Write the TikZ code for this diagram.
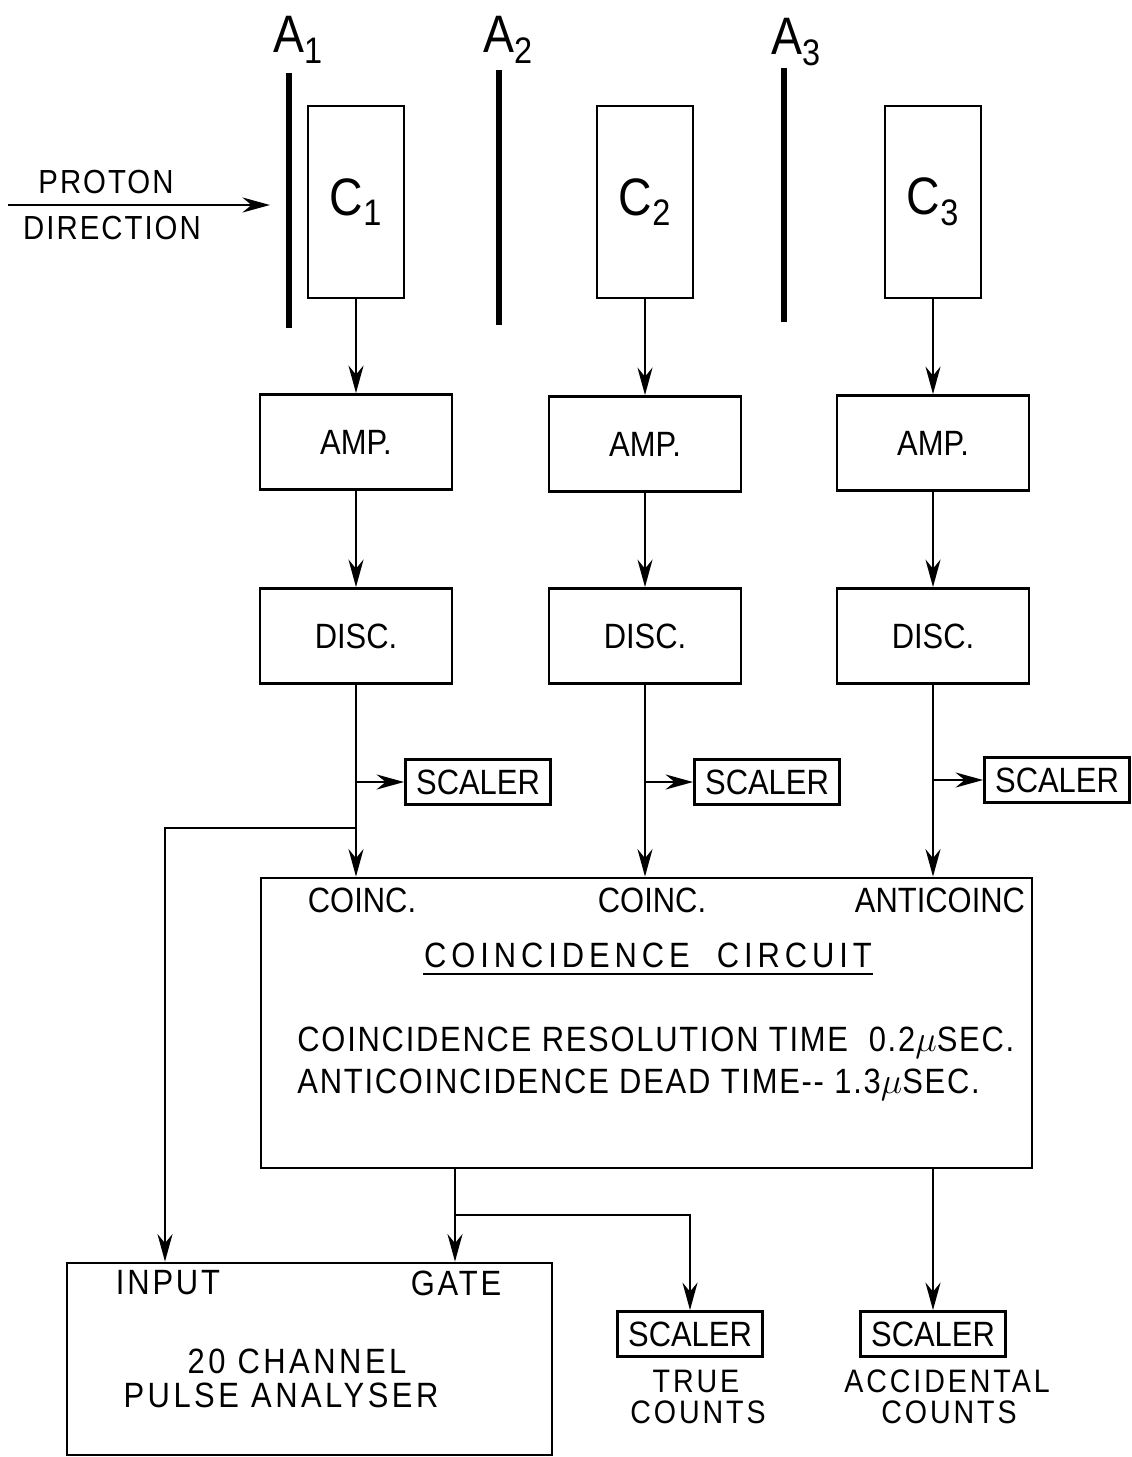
\documentclass[tikz,border=0pt]{standalone}
\usepackage{fontspec}
\setmainfont{Liberation Sans}[FakeStretch=0.88]
\usetikzlibrary{arrows.meta,calc,positioning}

\begin{document}
\begin{tikzpicture}[x=0.02cm,y=-0.02cm, line width=1.6pt,
  box/.style={draw,line width=1.6pt,inner sep=0pt,font=\fontsize{20}{24}\selectfont},
  det/.style={box,minimum width=1.92cm,minimum height=3.84cm,font=\fontsize{30}{34}\selectfont},
  unit/.style={box,minimum width=3.84cm,minimum height=1.9cm},
  scal/.style={box,minimum width=2.9cm,minimum height=0.9cm},
  lbl/.style={inner sep=0pt,font=\fontsize{20}{24}\selectfont},
  wide/.style={inner sep=0pt,font=\fontsize{20}{24}\selectfont\addfontfeature{LetterSpace=#1}},
  note/.style={inner sep=0pt,font=\fontsize{18.5}{22}\selectfont\addfontfeature{LetterSpace=9}},
  big/.style={inner sep=0pt,font=\fontsize{30}{34}\selectfont},
  absorb/.style={line width=3.4pt},
  sig/.style={-{Stealth[length=5.5mm,width=3mm,inset=1.8mm]}}]
\useasboundingbox (0,0) rectangle (1132,1457);

%--- absorbers ---
\foreach \x/\ya/\yb in {289/73/328,499/70/325,784/68/322}{
  \draw[absorb] (\x,\ya) -- (\x,\yb);
}
\node[big] (a1) at (298,40) {A\textsubscript{1}};
\node[big] (a2) at (508,40) {A\textsubscript{2}};
\node[big] (a3) at (796,42) {A\textsubscript{3}};

%--- beam ---
\coordinate (pstart) at (8,205);
\coordinate (pend) at (270,205);
\draw[sig] (pstart) -- (pend);
\node[wide=6,font=\fontsize{19}{22}\selectfont\addfontfeature{LetterSpace=6}] (proton) at (106,182) {PROTON};
\node[wide=6,font=\fontsize{19}{22}\selectfont\addfontfeature{LetterSpace=6}] (direc) at (112,228) {DIRECTION};

%--- counters ---
\node[det] (c1) at (356,202) {C\textsubscript{1}};
\node[det] (c2) at (645,202) {C\textsubscript{2}};
\node[det] (c3) at (933,202) {C\textsubscript{3}};

% amplifiers and discriminators
\node[unit] (amp1) at (356,442) {AMP.};
\node[unit] (amp2) at (645,444) {AMP.};
\node[unit] (amp3) at (933,443) {AMP.};
\node[unit] (disc1) at (356,636) {DISC.};
\node[unit] (disc2) at (645,636) {DISC.};
\node[unit] (disc3) at (933,636) {DISC.};
\foreach \i in {1,2,3}{
  \draw[sig] (c\i.south) -- (c\i.south |- amp\i.north);
  \draw[sig] (amp\i.south) -- (amp\i.south |- disc\i.north);
}

% scalers on the channels
\node[scal] (s1) at (478,782) {SCALER};
\node[scal] (s2) at (767,782) {SCALER};
\node[scal] (s3) at (1057,780) {SCALER};
\foreach \i in {1,2,3}{
  \draw[sig] (disc\i.south |- s\i.west) -- (s\i.west);
}

%--- coincidence circuit ---
\node[box,minimum width=15.42cm,minimum height=5.8cm] (coinc) at (646.5,1023) {};
\foreach \i in {1,2,3}{
  \draw[sig] (disc\i.south) -- (disc\i.south |- coinc.north);
}
\node[lbl] (in1) at (362,900) {COINC.};
\node[lbl] (in2) at (652,900) {COINC.};
\node[lbl] (in3) at (940,900) {ANTICOINC};
\node[wide=14] (title) at (648,955) {COINCIDENCE\ \ CIRCUIT};
\draw[line width=1.2pt] ($(title.south west)+(0,5)$) -- ($(title.south east)+(0,5)$);
\node[wide=5,anchor=west] (res) at (296,1043) {COINCIDENCE RESOLUTION TIME\ \ 0.2$\mu$SEC.};
\node[wide=5,anchor=west] (dead) at (296,1085) {ANTICOINCIDENCE DEAD TIME{-}{-} 1.3$\mu$SEC.};

%--- pulse analyser ---
\node[box,minimum width=9.7cm,minimum height=3.84cm] (pha) at (309.5,1359) {};
\node[wide=8] (inp) at (168,1283) {INPUT};
\node[wide=8] (gate) at (456,1283) {GATE};
\node[wide=10] (name1) at (297,1361) {20 CHANNEL};
\node[wide=10] (name2) at (281,1395) {PULSE ANALYSER};
\coordinate (tap) at (356,828);
\coordinate (bend) at (165,828);
\draw[sig] (tap) -- (bend) -- (bend |- pha.north);

%--- outputs ---
\node[scal] (tsc) at (690,1334) {SCALER};
\node[scal] (asc) at (933,1334) {SCALER};
\node[note] (true1) at (696,1381) {TRUE};
\node[note] (true2) at (698,1412) {COUNTS};
\node[note] (acc1) at (947,1381) {ACCIDENTAL};
\node[note] (acc2) at (949,1412) {COUNTS};
\coordinate (gtap) at (455,1215);
\draw[sig] (gtap |- coinc.south) -- (gtap |- pha.north);
\draw[sig] (gtap) -| (tsc.north);
\draw[sig] (asc.north |- coinc.south) -- (asc.north);
\end{tikzpicture}
\end{document}
